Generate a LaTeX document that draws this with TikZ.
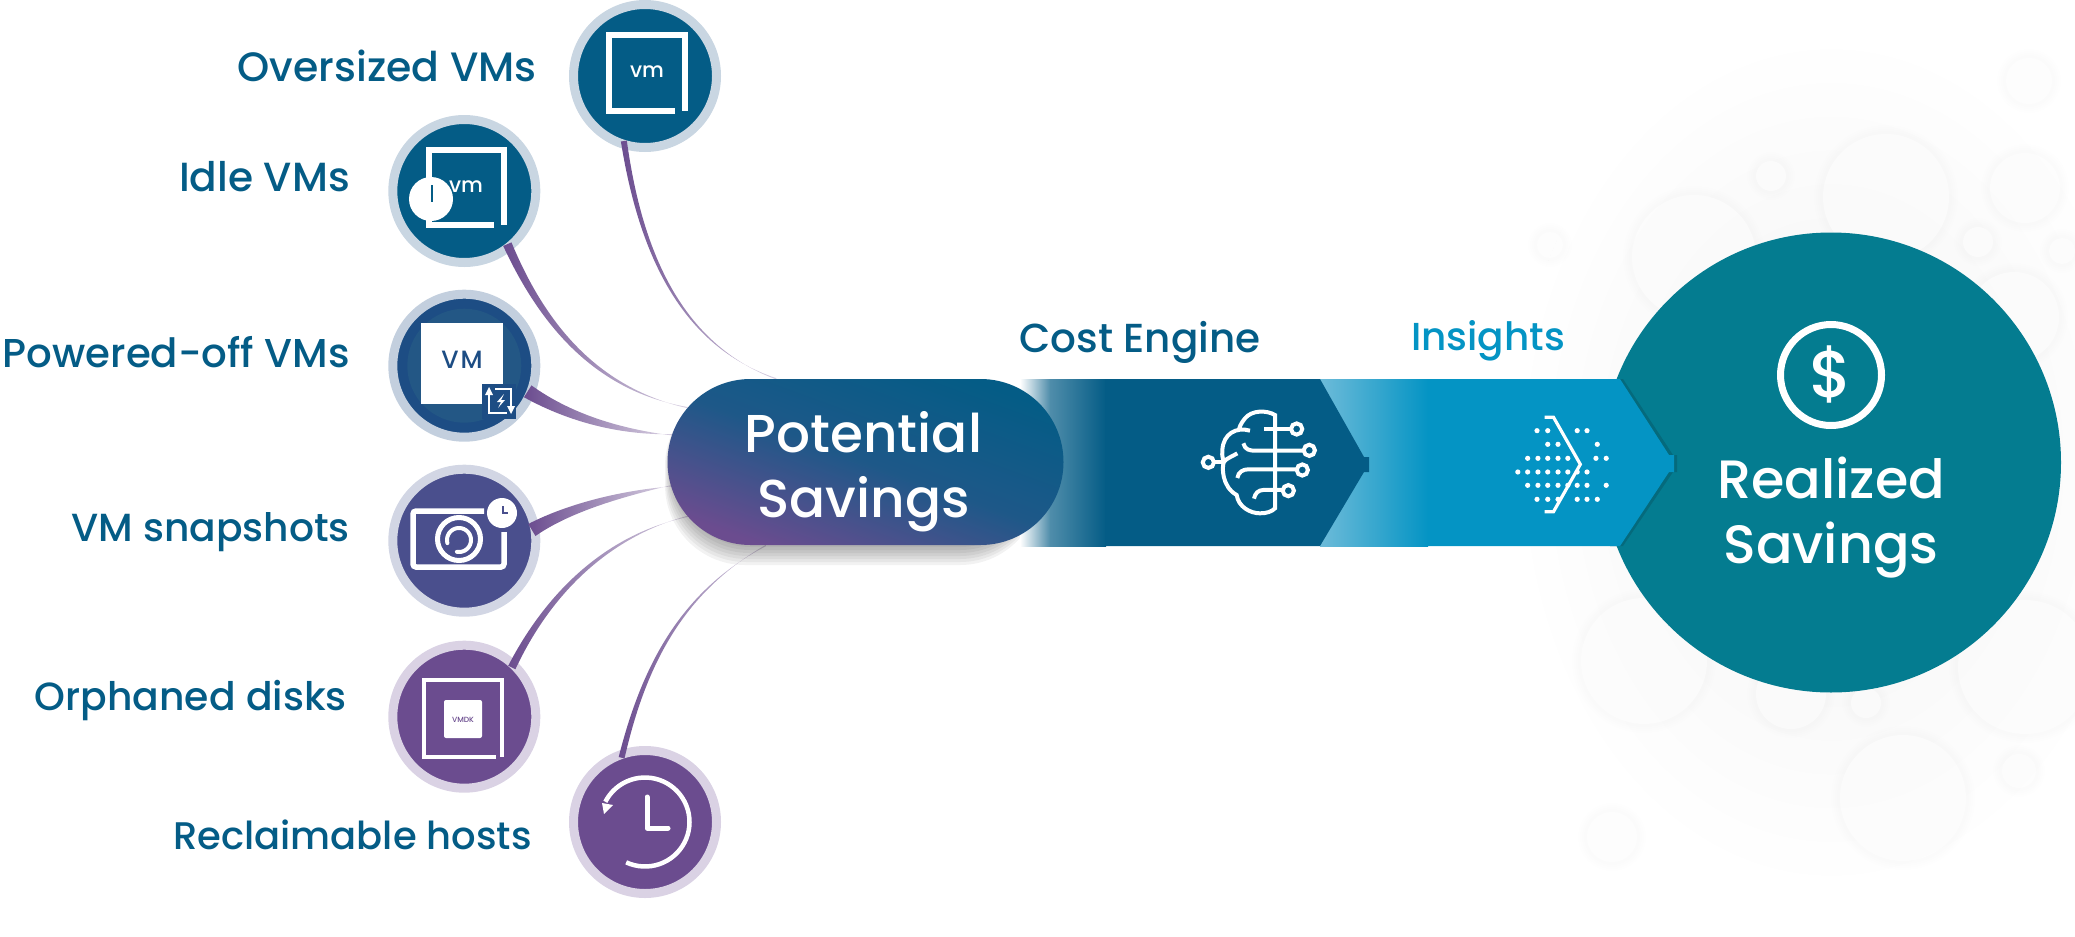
\documentclass[tikz,border=0pt]{standalone}
\usepackage{fontspec}
\setmainfont{Poppins Medium}
\usetikzlibrary{calc,shapes.misc}
\definecolor{navy}{HTML}{045C86}
\definecolor{navyb}{HTML}{1D4D84}
\definecolor{navyc}{HTML}{235785}
\definecolor{indigo}{HTML}{4A4F8D}
\definecolor{plum}{HTML}{6B4C8F}
\definecolor{ringa}{HTML}{C9D6E2}
\definecolor{ringb}{HTML}{C3CFDE}
\definecolor{ringc}{HTML}{D2D6E4}
\definecolor{ringd}{HTML}{DAD2E4}
\definecolor{sky}{HTML}{0494C4}
\definecolor{skyl}{HTML}{6DBBD9}
\definecolor{teal}{HTML}{047C90}
\definecolor{teald}{HTML}{056A7C}
\tikzset{
 disc/.style={circle,minimum size=143pt,inner sep=0pt,line width=9pt},
 lab/.style={anchor=east,text=navy,inner sep=0pt,font=\fontsize{#1}{#1}\selectfont},
 conn/.style={left color=plum,middle color=plum!80,right color=plum!25},
 wline/.style={draw=white,line width=#1,line join=miter,line cap=butt},
 bigt/.style={text=white,align=center,inner sep=0pt},
 blob/.style={fill=white,fill opacity=.5},
 halo/.style={fill=black,fill opacity=.005},
}
\newcommand\taper[6]{%
 \shade[conn] ($(#1)!.9!(#1.#2)$) ++(0,0) coordinate (ts)
   ($(ts)!#5!90:(#3)$) .. controls ($(#3)!#5*.6!90:(#4)$) and ($(#4)!#5*.45!90:(#6)$) .. ($(#6)!.6pt!90:(#4)$)
   -- ($(#6)!.6pt!-90:(#4)$) .. controls ($(#4)!#5*.45!-90:(#6)$) and ($(#3)!#5*.6!-90:(#4)$) .. ($(ts)!#5!-90:(#3)$) -- cycle;}
\newcommand\blobc[3]{%
 \foreach \k in {9,7,5,3}{\fill[halo] (#1,#2) circle[radius={#3+\k pt}];}
 \fill[blob] (#1,#2) circle[radius=#3pt];}
\begin{document}
\begin{tikzpicture}[x=1pt,y=-1pt]
\useasboundingbox (0,0) rectangle (2075,937);
% background haze
\shade[inner color=black!5,outer color=white] (1831,462) ellipse[x radius=320pt,y radius=430pt];
\blobc{2029}{81}{23}\blobc{1886}{197}{63}\blobc{2025}{188}{35}\blobc{1978}{242}{15}
\blobc{1771}{176}{15}\blobc{1694}{257}{62}\blobc{2062}{251}{13}\blobc{2014}{317}{45}
\blobc{1550}{245}{13}\blobc{1644}{661}{63}\blobc{2025}{667}{67}\blobc{1791}{694}{35}
\blobc{1866}{703}{15}\blobc{1903}{798}{63}\blobc{2019}{771}{17}\blobc{1612}{837}{25}
% realized circle
\node[circle,fill=teal,minimum size=460pt,inner sep=0pt] (real) at (1831,462.5) {};
% discs
\node[disc,draw=ringa,fill=navy] (o1) at (645,76) {};
\node[disc,draw=ringa,fill=navy] (o2) at (464.3,191) {};
\node[disc,draw=ringb,fill=navyb] (o3) at (464.3,365.7) {};
\node[disc,draw=ringc,fill=indigo] (o4) at (464.3,540.7) {};
\node[disc,draw=ringd,fill=plum] (o5) at (464.3,716.7) {};
\node[disc,draw=ringd,fill=plum] (o6) at (645,822) {};
\fill[navyc] (o3.center) circle[radius=57pt];
% pill anchors
\node[rounded rectangle,minimum width=396pt,minimum height=166pt,inner sep=0pt] (pill) at (865.5,462) {};
% connectors
\coordinate (a1) at (640,250); \coordinate (b1) at (680,345);
\coordinate (a2) at (545,330); \coordinate (b2) at (600,390);
\coordinate (a3) at (570,418); \coordinate (b3) at (620,432);
\coordinate (a4) at (570,507); \coordinate (b4) at (625,493);
\coordinate (a5) at (550,590); \coordinate (b5) at (610,535);
\coordinate (a6) at (645,660); \coordinate (b6) at (685,590);
\taper{o1}{-108}{a1}{b1}{3pt}{pill.137}
\taper{o2}{-51}{a2}{b2}{4.5pt}{pill.163}
\taper{o3}{-22}{a3}{b3}{7pt}{pill.172}
\taper{o4}{9}{a4}{b4}{7pt}{pill.187}
\taper{o5}{46}{a5}{b5}{4pt}{pill.197}
\taper{o6}{110}{a6}{b6}{3pt}{pill.220}
% pill shadow
\foreach \k in {20,17,14,11,8,5,2}{\fill[black,fill opacity=.05,rounded corners=80pt] (672-\k*.35,386) rectangle (1040,545+\k);}
% bands
\fill[teald] (1610,379) -- (1623,379) -- (1673,455) -- (1677,455) -- (1677,472) -- (1673,472) -- (1623,546) -- (1610,546) -- cycle;
\shade[left color=skyl,right color=sky] (1320,379) rectangle (1428,546);
\fill[sky] (1428,379) -- (1620,379) -- (1669,455) -- (1674,455) -- (1674,472) -- (1669,472) -- (1620,546) -- (1428,546) -- cycle;
\shade[left color=white,right color=navy!70] (1020,379) rectangle (1050,546);
\shade[left color=navy!70,right color=navy] (1050,379) rectangle (1106,546);
\fill[navy] (1105,379) -- (1320,379) -- (1364,457) -- (1369,457) -- (1369,472) -- (1364,472) -- (1320,546) -- (1105,546) -- cycle;
\node[rounded rectangle,minimum width=396pt,minimum height=166pt,inner sep=0pt,top color=navy,bottom color=plum,middle color=navy!75!plum,shading angle=-20] (pillbody) at (865.5,462) {};
\node[bigt,font=\fontsize{53.3}{65}\selectfont] (pilltext) at (863.5,472) {Potential\\Savings};
% labels
\node[lab=41] (l1) at (537,66) {Oversized VMs};
\node[lab=40.7] (l2) at (350,177) {Idle VMs};
\node[lab=40.3] (l3) at (350,352) {Powered-off VMs};
\node[lab=39.2] (l4) at (350,532) {VM snapshots};
\node[lab=39.3] (l5) at (347,701) {Orphaned disks};
\node[lab=38.5] (l6) at (532,835) {Reclaimable hosts};
\node[lab=40.5,anchor=center] (ce) at (1140,342) {Cost Engine};
\node[lab=39,anchor=center,text=sky] (ins) at (1488,341) {Insights};
% realized contents
\node[circle,draw=white,line width=7pt,minimum size=101pt,inner sep=0pt] (dollar) at (1831,375) {};
\node[text=white,inner sep=0pt,font=\fontsize{66}{66}\selectfont] (dsign) at (1831,374) {\$};
\node[bigt,font=\fontsize{54}{65}\selectfont] (rs) at (1831,518) {Realized\\Savings};
% VM icon 1
\draw[wline=6pt] (675,110.5) -- (609,110.5) -- (609,35) -- (685,35) -- (685,110.5);
\node[text=white,inner sep=0pt,font=\fontsize{21}{21}\selectfont] (v1) at (647,72) {vm};
% VM icon 2
\draw[wline=6pt] (494,225) -- (429,225) -- (429,150) -- (504,150) -- (504,225);
\node[text=white,inner sep=0pt,font=\fontsize{21}{21}\selectfont] (v2) at (466,187) {vm};
\fill[white] (431,199) circle[radius=22pt];
\draw[navy,line width=1.5pt] (432,185) -- (432,202);
% VM icon 3
\fill[white] (421,323) rectangle (503,404);
\node[text=navyb,inner sep=0pt,font=\fontsize{25}{25}\selectfont\addfontfeatures{LetterSpace=8}] (v3) at (462,360) {VM};
\fill[navyb] (482,384) rectangle (516,419);
\draw[wline=2pt] (495,388.5) -- (511,388.5) -- (511,408);
\draw[wline=2pt] (507,413) -- (489,413) -- (489,393);
\fill[white] (485,395) -- (489,387) -- (493,395) -- cycle;
\fill[white] (507,406) -- (515,406) -- (511,414) -- cycle;
\fill[white] (504,394) -- (497,402) -- (501,402) -- (498,408) -- (505,400) -- (501,400) -- cycle;
% camera icon
\draw[wline=5.5pt,rounded corners=3pt] (484,511) -- (413,511) -- (413,567) -- (504,567) -- (504,532);
\fill[white] (502,513) circle[radius=15pt];
\draw[indigo,line width=2pt] (503,506) -- (503,513) -- (508,513);
\draw[white,line width=5pt] (459,539) circle[radius=21.5pt];
\draw[white,line width=4pt,line cap=round] plot[domain=-100:195,samples=40,smooth] ({459+12*cos(\x)},{540-12*sin(\x)});
% VMDK icon
\draw[wline=4pt] (496,757) -- (424,757) -- (424,680) -- (502,680) -- (502,757);
\fill[white,rounded corners=2pt] (444,700) rectangle (482,738);
\node[text=plum,inner sep=0pt,font=\fontsize{7.5}{8}\selectfont] (v5) at (463,720) {VMDK};
% history icon
\draw[white,line width=4.5pt] plot[domain=-115:153,samples=50,smooth] ({645+44.5*cos(\x)},{822-44.5*sin(\x)});
\fill[white] (602,803) -- (613,805) -- (604,814) -- cycle;
\draw[white,line width=5pt,line cap=round,line join=round] (647,797) -- (647,828) -- (668,828);
% brain icon
\begin{scope}[shift={(1180,400)},x=0.3333pt,y=-0.3333pt,white,line width=4pt]
 \draw (252,87) -- (285,87);
 \draw (210,92) .. controls (170,80) and (130,100) .. (127,150) .. controls (125,170) and (130,180) .. (132,185) .. controls (125,200) and (125,260) .. (170,285) .. controls (175,320) and (210,340) .. (240,340) .. controls (260,340) and (275,335) .. (285,325) -- (285,45) .. controls (260,30) and (215,30) .. (195,55) .. controls (182,70) and (177,85) .. (177,90);
 \draw (172,160) .. controls (155,170) and (140,175) .. (132,185);
 \draw (104,186) -- (132,186);
 \draw (85,187) circle[radius=5.6pt];
 \draw (285,87) -- (333,87); \draw (350,87) circle[radius=5.6pt];
 \draw (190,130) .. controls (195,150) and (210,152) .. (225,152) -- (370,152); \draw (388,151) circle[radius=5.6pt];
 \draw (350,208) -- (205,208) .. controls (190,208) and (175,215) .. (172,234); \draw (367,210) circle[radius=5.6pt];
 \draw (307,270) -- (250,270) .. controls (235,270) and (225,280) .. (222,296); \draw (325,272) circle[radius=5.6pt];
\end{scope}
% insights icon
\begin{scope}[shift={(1000,300)},x=0.4464pt,y=-0.3333pt]
 \draw[white,line width=3.2pt,line join=miter] (1220,352) -- (1240,352) -- (1300,493) -- (1240,635) -- (1220,635);
 \foreach \p/\q in {1203/392,1227/392,1293/392,1315/392,1227/433,1250/433,1338/433,
  1182/475,1205/475,1227/475,1250/475,1272/475,1335/475,1358/475,
  1160/516,1182/516,1205/516,1227/516,1250/516,1272/516,1293/516,1315/516,
  1182/556,1205/556,1227/556,1250/556,1272/556,1293/556,1315/556,1358/556,
  1203/598,1227/598,1250/598,1293/598,1315/598,1338/598}
  {\fill[white] (\p,\q) circle[radius=2.6pt];}
\end{scope}
\end{tikzpicture}
\end{document}
